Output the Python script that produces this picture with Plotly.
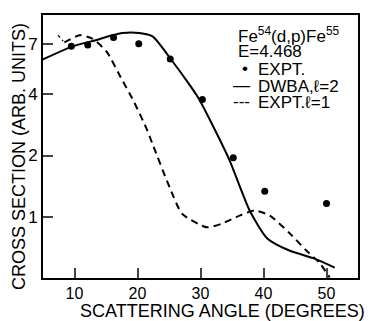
import plotly.graph_objects as go

# Experimental points
expt_angle = [9.5, 12.1, 16.2, 20.2, 25.2, 30.3, 35.2, 40.2, 50.0]
expt_sigma = [6.8, 6.9, 7.5, 7.0, 5.9, 3.75, 1.95, 1.34, 1.17]

# DWBA l=2 curve
dwba_angle = [4.9, 9.7, 13.5, 16.0, 17.6, 20.3, 22.4, 25.1, 28.3, 29.8, 32.2, 34.6, 37.8, 40.6, 44.1, 48.1, 51.3]
dwba_sigma = [5.86, 6.8, 7.3, 7.7, 7.9, 7.9, 7.6, 6.0, 4.4, 3.75, 2.7, 1.9, 1.08, 0.79, 0.69, 0.63, 0.57]

# EXPT l=1 curve
l1_angle = [8.4, 10.8, 12.9, 15.1, 17.1, 19.4, 21.4, 22.4, 25.1, 27.1, 31.0, 33.5, 36.2, 38.6, 41.0, 44.1, 46.8, 48.9, 50.5]
l1_sigma = [7.1, 7.7, 7.4, 6.4, 4.96, 3.67, 2.72, 2.27, 1.40, 1.04, 0.895, 0.935, 1.02, 1.08, 1.02, 0.84, 0.69, 0.60, 0.51]

# Dotted lead-in of the l=1 curve
l1_lead_angle = [7.4, 8.2]
l1_lead_sigma = [7.7, 7.2]

x_ticks = [10, 20, 30, 40, 50]
y_ticks = [1, 2, 4, 7]

FONT = "Liberation Sans, Arial, sans-serif"

fig = go.Figure()
fig.add_trace(go.Scatter(x=dwba_angle, y=dwba_sigma, mode="lines",
                         line=dict(color="black", width=2, shape="spline", smoothing=0.6), showlegend=False))
fig.add_trace(go.Scatter(x=l1_angle, y=l1_sigma, mode="lines",
                         line=dict(color="black", width=2, dash="7px,5px", shape="spline", smoothing=0.6),
                         showlegend=False))
fig.add_trace(go.Scatter(x=l1_lead_angle, y=l1_lead_sigma, mode="lines",
                         line=dict(color="black", width=1.2, dash="dot"), showlegend=False))
fig.add_trace(go.Scatter(x=expt_angle, y=expt_sigma, mode="markers",
                         marker=dict(color="black", size=7), showlegend=False))

fig.update_xaxes(range=[5, 55], tickvals=x_ticks, ticks="inside", ticklen=10, tickwidth=2,
                 showgrid=False, zeroline=False, showline=True, linewidth=2, linecolor="black",
                 mirror=True, tickfont=dict(size=16, family=FONT, color="black"))
fig.update_yaxes(type="log", range=[-0.295, 0.985], tickvals=y_ticks, ticktext=[str(v) for v in y_ticks],
                 ticks="inside", ticklen=10, tickwidth=2,
                 showgrid=False, zeroline=False, showline=True, linewidth=2, linecolor="black",
                 mirror=True, tickfont=dict(size=17, family=FONT, color="black"))

# screen pixel -> paper coordinates of the plot area (43..358, 13..278 on screen)
def px2paper(px, py):
    return (px - 43) / 315, (278 - py) / 265

# Axis titles
tx, ty = px2paper(222, 311)
fig.add_annotation(x=tx, y=ty, xref="paper", yref="paper", text="SCATTERING ANGLE (DEGREES)",
                   showarrow=False, xanchor="center", yanchor="middle",
                   font=dict(size=18, family=FONT, color="black"))
tx, ty = px2paper(19, 156)
fig.add_annotation(x=tx, y=ty, xref="paper", yref="paper", text="CROSS SECTION (ARB. UNITS)",
                   showarrow=False, xanchor="center", yanchor="middle", textangle=-90,
                   font=dict(size=18, family=FONT, color="black"))

legend_rows = [
    (237, 33, "Fe<sup>54</sup>(d,p)Fe<sup>55</sup>"),
    (237, 50, "E=4.468"),
    (241, 67, "•"),
    (257, 68, "EXPT."),
    (232, 84, "—"),
    (257, 85, "DWBA,ℓ=2"),
    (232, 100, "---"),
    (257, 101, "EXPT.ℓ=1"),
]
for px, py, txt in legend_rows:
    ax, ay = px2paper(px, py)
    fig.add_annotation(x=ax, y=ay, xref="paper", yref="paper", text=txt, showarrow=False,
                       xanchor="left", yanchor="middle", borderpad=0,
                       font=dict(size=17, family=FONT, color="black"))

# the page body adds an 8px offset, so the figure is 8px smaller and shifted
fig.update_layout(width=370, height=313, margin=dict(l=35, r=20, t=5, b=43),
                  plot_bgcolor="white", paper_bgcolor="white")

fig.write_html("out.html")
